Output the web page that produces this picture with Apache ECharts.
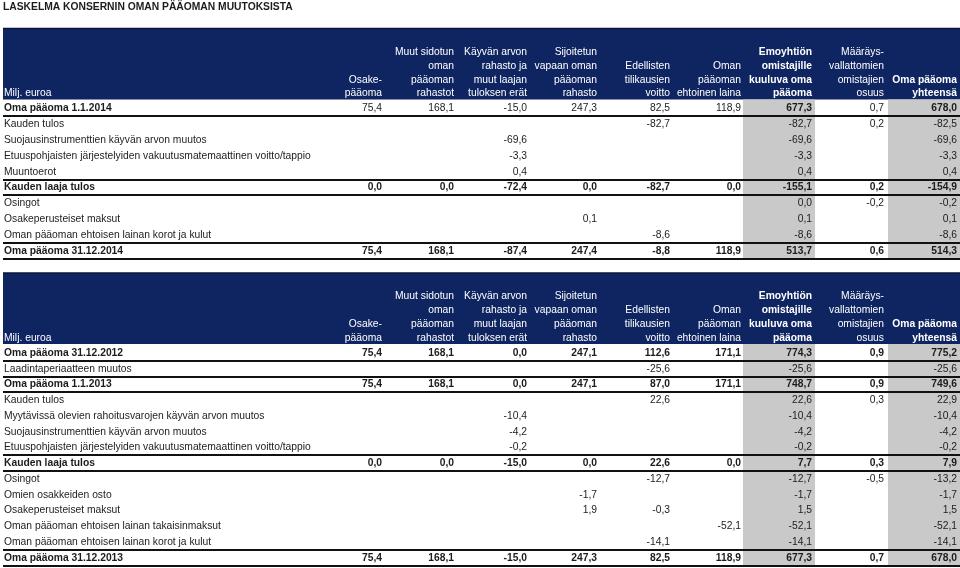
<!DOCTYPE html>
<html><head><meta charset="utf-8">
<script src="https://cdn.jsdelivr.net/npm/echarts@6/dist/echarts.min.js"></script>
<style>html,body{margin:0;padding:0;background:#fff}#chart{width:960px;height:568px}</style>
</head><body><div id="chart"></div>
<script>
// ---------- DATA ----------
const titleText = 'LASKELMA KONSERNIN OMAN PÄÄOMAN MUUTOKSISTA';
const unitLabel = 'Milj. euroa';
const columnHeaders = [
  ['Osake-', 'pääoma'],
  ['Muut sidotun', 'oman', 'pääoman', 'rahastot'],
  ['Käyvän arvon', 'rahasto ja', 'muut laajan', 'tuloksen erät'],
  ['Sijoitetun', 'vapaan oman', 'pääoman', 'rahasto'],
  ['Edellisten', 'tilikausien', 'voitto'],
  ['Oman', 'pääoman', 'ehtoinen laina'],
  ['Emoyhtiön', 'omistajille', 'kuuluva oma', 'pääoma'],
  ['Määräys-', 'vallattomien', 'omistajien', 'osuus'],
  ['Oma pääoma', 'yhteensä']
];
const rowLabels2014 = [
  'Oma pääoma 1.1.2014',
  'Kauden tulos',
  'Suojausinstrumenttien käyvän arvon muutos',
  'Etuuspohjaisten järjestelyiden vakuutusmatemaattinen voitto/tappio',
  'Muuntoerot',
  'Kauden laaja tulos',
  'Osingot',
  'Osakeperusteiset maksut',
  'Oman pääoman ehtoisen lainan korot ja kulut',
  'Oma pääoma 31.12.2014'
];
const values2014 = [
  [75.4, 168.1, -15.0, 247.3, 82.5, 118.9, 677.3, 0.7, 678.0],
  [null, null, null, null, -82.7, null, -82.7, 0.2, -82.5],
  [null, null, -69.6, null, null, null, -69.6, null, -69.6],
  [null, null, -3.3, null, null, null, -3.3, null, -3.3],
  [null, null, 0.4, null, null, null, 0.4, null, 0.4],
  [0.0, 0.0, -72.4, 0.0, -82.7, 0.0, -155.1, 0.2, -154.9],
  [null, null, null, null, null, null, 0.0, -0.2, -0.2],
  [null, null, null, 0.1, null, null, 0.1, null, 0.1],
  [null, null, null, null, -8.6, null, -8.6, null, -8.6],
  [75.4, 168.1, -87.4, 247.4, -8.8, 118.9, 513.7, 0.6, 514.3]
];
const rowLabels2013 = [
  'Oma pääoma 31.12.2012',
  'Laadintaperiaatteen muutos',
  'Oma pääoma 1.1.2013',
  'Kauden tulos',
  'Myytävissä olevien rahoitusvarojen käyvän arvon muutos',
  'Suojausinstrumenttien käyvän arvon muutos',
  'Etuuspohjaisten järjestelyiden vakuutusmatemaattinen voitto/tappio',
  'Kauden laaja tulos',
  'Osingot',
  'Omien osakkeiden osto',
  'Osakeperusteiset maksut',
  'Oman pääoman ehtoisen lainan takaisinmaksut',
  'Oman pääoman ehtoisen lainan korot ja kulut',
  'Oma pääoma 31.12.2013'
];
const values2013 = [
  [75.4, 168.1, 0.0, 247.1, 112.6, 171.1, 774.3, 0.9, 775.2],
  [null, null, null, null, -25.6, null, -25.6, null, -25.6],
  [75.4, 168.1, 0.0, 247.1, 87.0, 171.1, 748.7, 0.9, 749.6],
  [null, null, null, null, 22.6, null, 22.6, 0.3, 22.9],
  [null, null, -10.4, null, null, null, -10.4, null, -10.4],
  [null, null, -4.2, null, null, null, -4.2, null, -4.2],
  [null, null, -0.2, null, null, null, -0.2, null, -0.2],
  [0.0, 0.0, -15.0, 0.0, 22.6, 0.0, 7.7, 0.3, 7.9],
  [null, null, null, null, -12.7, null, -12.7, -0.5, -13.2],
  [null, null, null, -1.7, null, null, -1.7, null, -1.7],
  [null, null, null, 1.9, -0.3, null, 1.5, null, 1.5],
  [null, null, null, null, null, -52.1, -52.1, null, -52.1],
  [null, null, null, null, -14.1, null, -14.1, null, -14.1],
  [75.4, 168.1, -15.0, 247.3, 82.5, 118.9, 677.3, 0.7, 678.0]
];

// ---------- STYLE / LAYOUT ----------
const boldRows = [[0, 5, 9], [0, 2, 7, 13]];
const boldLabelOnlyRows = [[0], []];   // label bold, values plain (except highlighted columns)
const boldCols = [6, 8];
const grayCols = [6, 8];
const LAYOUT = {
  colRight: [382, 454, 527, 597, 670, 741, 812, 884, 957],
  colWidth: 71,
  labelX: 4,
  left: 3, right: 960,
  tables: [{ firstRow: 108.5, pitch: 15.8 }, { firstRow: 353, pitch: 15.75 }],
  bandTop: -80, bandBottom: -9,
  headLast: -15, headPitch: 13.8
};
const FONT = '"Liberation Sans", Arial, Helvetica, sans-serif';
const FS = 10.3;
const NAVY = '#0f2561', GRAY = '#c9c9c9', INK = '#1c1c1c';

const tablesRows = [rowLabels2014, rowLabels2013];
const tablesVals = [values2014, values2013];
const fmt = v => v.toFixed(1).replace('.', ',');

// ---------- ELEMENTS ----------
const elements = [];
tablesRows.forEach((labels, t) => {
  elements.push({ kind: 'band', t });
  grayCols.forEach(c => elements.push({ kind: 'gray', t, c }));
  const bold = boldRows[t];
  labels.forEach((lab, r) => {
    if (bold.includes(r) || bold.includes(r + 1)) elements.push({ kind: 'line', t, r });
  });
  columnHeaders.forEach((lines, c) => {
    lines.forEach((txt, i) => elements.push({ kind: 'head', t, c, i: lines.length - 1 - i, text: txt }));
  });
  elements.push({ kind: 'unit', t });
  labels.forEach((lab, r) => {
    elements.push({ kind: 'label', t, r });
    tablesVals[t][r].forEach((v, c) => { if (v !== null) elements.push({ kind: 'cell', t, r, c }); });
  });
});

function renderItem(params, api) {
  const e = elements[params.dataIndex];
  const T = LAYOUT.tables[e.t];
  const nRows = tablesRows[e.t].length;
  const rowY = r => T.firstRow + r * T.pitch;
  const P = (x, y) => api.coord([x, y]);
  const txt = (x, y, text, align, bold, color) => ({
    type: 'text',
    style: {
      x, y, text, fill: color,
      font: (bold ? 'bold ' : '') + FS + 'px ' + FONT,
      textAlign: align, align: align,
      textVerticalAlign: 'middle', verticalAlign: 'middle'
    }
  });
  if (e.kind === 'band') {
    const a = P(LAYOUT.left, T.firstRow + LAYOUT.bandTop), b = P(LAYOUT.right, T.firstRow + LAYOUT.bandBottom);
    return { type: 'group', children: [
      { type: 'rect', shape: { x: a[0], y: a[1], width: b[0] - a[0], height: b[1] - a[1] }, style: { fill: NAVY } },
      { type: 'line', shape: { x1: a[0], y1: a[1], x2: b[0], y2: a[1] }, style: { stroke: '#091638', lineWidth: 1.5 } }
    ] };
  }
  if (e.kind === 'gray') {
    const rr = LAYOUT.colRight[e.c];
    const a = P(rr - LAYOUT.colWidth + 2, T.firstRow + LAYOUT.bandBottom);
    const b = P(Math.min(rr + 3, LAYOUT.right), rowY(nRows - 1) + T.pitch / 2);
    return { type: 'rect', shape: { x: a[0], y: a[1], width: b[0] - a[0], height: b[1] - a[1] }, style: { fill: GRAY } };
  }
  if (e.kind === 'line') {
    const y = Math.round(rowY(e.r) + T.pitch / 2);
    const a = P(LAYOUT.left, y), b = P(LAYOUT.right, y);
    return { type: 'line', shape: { x1: a[0], y1: a[1], x2: b[0], y2: b[1] }, style: { stroke: '#111', lineWidth: 2 } };
  }
  if (e.kind === 'head') {
    const p = P(LAYOUT.colRight[e.c], T.firstRow + LAYOUT.headLast - e.i * LAYOUT.headPitch);
    return txt(p[0], p[1], e.text, 'right', boldCols.includes(e.c), '#ffffff');
  }
  if (e.kind === 'unit') {
    const p = P(LAYOUT.labelX, T.firstRow + LAYOUT.headLast);
    return txt(p[0], p[1], unitLabel, 'left', false, '#ffffff');
  }
  if (e.kind === 'label') {
    const p = P(LAYOUT.labelX, rowY(e.r));
    const b = boldRows[e.t].includes(e.r);
    return txt(p[0], p[1], tablesRows[e.t][e.r], 'left', b, INK);
  }
  if (e.kind === 'cell') {
    const p = P(LAYOUT.colRight[e.c], rowY(e.r));
    let b = boldRows[e.t].includes(e.r);
    if (boldLabelOnlyRows[e.t].includes(e.r)) b = boldCols.includes(e.c);
    return txt(p[0], p[1], fmt(tablesVals[e.t][e.r][e.c]), 'right', b, INK);
  }
}

const chart = echarts.init(document.getElementById('chart'), null, { renderer: 'canvas' });
chart.setOption({
  animation: false,
  backgroundColor: '#ffffff',
  title: {
    text: titleText, left: 3, top: 1, padding: 0,
    textStyle: { fontFamily: FONT, fontSize: FS, fontWeight: 'bold', color: INK, lineHeight: 13 }
  },
  grid: { left: 0, right: 0, top: 0, bottom: 0 },
  xAxis: { type: 'value', min: 0, max: 960, show: false },
  yAxis: { type: 'value', min: 0, max: 568, inverse: true, show: false },
  series: [{
    type: 'custom',
    clip: false,
    silent: true,
    renderItem,
    data: elements.map((e, i) => [i, 0])
  }]
});
</script></body></html>
